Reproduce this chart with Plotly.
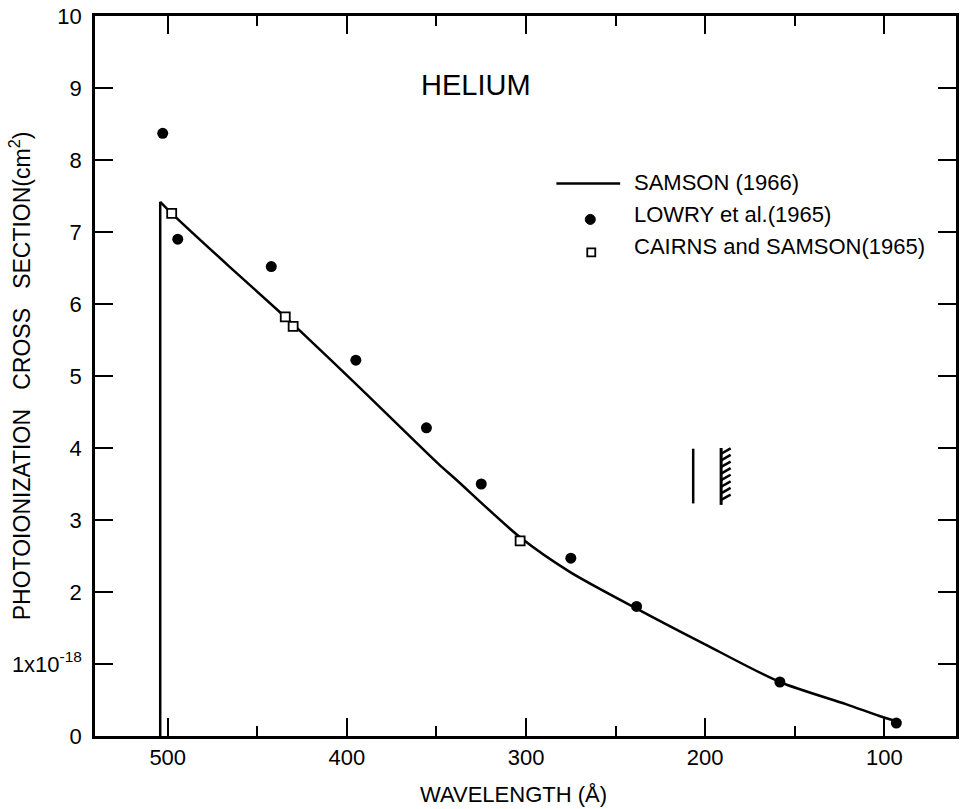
import plotly.graph_objects as go

# ---------------- data ----------------
# SAMSON (1966) continuous curve: wavelength (Å) vs cross section (1e-18 cm^2)
samson_wl = [504.2, 504.2, 497.8, 465.6, 434.4, 426.7, 393.3, 348.9, 339.4,
             303.3, 275.6, 238.3, 200.6, 158.3, 121.1, 100.6, 90.6]
samson_sigma = [0.0, 7.42, 7.26, 6.52, 5.82, 5.64, 4.85, 3.78, 3.57,
                2.76, 2.28, 1.77, 1.28, 0.75, 0.44, 0.26, 0.19]

# LOWRY et al. (1965) points
lowry_wl = [502.8, 494.4, 442.2, 395.0, 355.6, 325.0, 275.0, 238.3, 158.3, 93.3]
lowry_sigma = [8.37, 6.90, 6.52, 5.22, 4.28, 3.50, 2.47, 1.80, 0.75, 0.18]

# CAIRNS and SAMSON (1965) points
cairns_wl = [497.8, 434.4, 430.0, 303.3]
cairns_sigma = [7.26, 5.82, 5.69, 2.71]

# x / y tick labels
x_tick_vals = [500, 400, 300, 200, 100]
x_tick_text = ["500", "400", "300", "200", "100"]
y_tick_vals = [0, 1, 2, 3, 4, 5, 6, 7, 8, 9, 10]
y_tick_text = ["0", "1x10<sup>-18</sup>", "2", "3", "4", "5", "6", "7", "8", "9", "10"]

# the two vertical indicator bars (plain and hatched)
indicator_wl = [206.7, 191.1]
indicator_sigma = [3.23, 3.99]

legend_labels = ["SAMSON (1966)", "LOWRY et al.(1965)", "CAIRNS and SAMSON(1965)"]

# ---------------- figure ----------------
W, H = 963, 809
ML, MR, MT, MB = 95, 4, 14, 73
PW, PH = W - ML - MR, H - MT - MB
FONT = "Liberation Sans"


def px_x(px):
    return (px - ML) / PW


def px_y(py):
    return (H - MB - py) / PH


fig = go.Figure()

# absorption edge (vertical part of the Samson curve)
fig.add_trace(go.Scatter(
    x=samson_wl[:2], y=samson_sigma[:2], mode="lines",
    line=dict(color="black", width=2.5), name=legend_labels[0],
))
# smooth part of the Samson curve
fig.add_trace(go.Scatter(
    x=samson_wl[1:], y=samson_sigma[1:], mode="lines",
    line=dict(color="black", width=2.5, shape="spline", smoothing=0.8),
    name=legend_labels[0],
))
fig.add_trace(go.Scatter(
    x=lowry_wl, y=lowry_sigma, mode="markers",
    marker=dict(symbol="circle", size=11, color="black"), name=legend_labels[1],
))
fig.add_trace(go.Scatter(
    x=cairns_wl, y=cairns_sigma, mode="markers",
    marker=dict(symbol="square", size=9, color="white",
                line=dict(color="black", width=1.8)),
    name=legend_labels[2],
))

shapes = []
# plain indicator bar
shapes.append(dict(type="line", xref="x", yref="y",
                   x0=indicator_wl[0], x1=indicator_wl[0],
                   y0=indicator_sigma[0], y1=indicator_sigma[1],
                   line=dict(color="black", width=2.5)))
# hatched indicator bar
shapes.append(dict(type="line", xref="x", yref="y",
                   x0=indicator_wl[1], x1=indicator_wl[1],
                   y0=indicator_sigma[0] - 0.02, y1=indicator_sigma[1] + 0.01,
                   line=dict(color="black", width=3)))
n_hatch = 8
span = indicator_sigma[1] - indicator_sigma[0]
for i in range(n_hatch):
    yb = indicator_sigma[1] - 0.07 - i * (span - 0.07) / (n_hatch - 1) * 0.93
    shapes.append(dict(type="line", xref="x", yref="y",
                       x0=indicator_wl[1], x1=indicator_wl[1] - 5.3,
                       y0=yb, y1=yb + 0.075,
                       line=dict(color="black", width=2.5)))

# manual legend
shapes.append(dict(type="line", xref="paper", yref="paper",
                   x0=px_x(558), x1=px_x(622), y0=px_y(182), y1=px_y(182),
                   line=dict(color="black", width=2.5)))
shapes.append(dict(type="circle", xref="paper", yref="paper",
                   xsizemode="pixel", ysizemode="pixel",
                   xanchor=px_x(592), yanchor=px_y(218),
                   x0=-5, x1=5, y0=-5, y1=5,
                   fillcolor="black", line=dict(color="black", width=1)))
shapes.append(dict(type="rect", xref="paper", yref="paper",
                   xsizemode="pixel", ysizemode="pixel",
                   xanchor=px_x(593), yanchor=px_y(251),
                   x0=-4, x1=4, y0=-4, y1=4,
                   fillcolor="white", line=dict(color="black", width=1.8)))

annotations = []
for lbl, yy in zip(legend_labels, [181, 213, 245]):
    annotations.append(dict(text=lbl, xref="paper", yref="paper",
                            x=px_x(634), y=px_y(yy), xanchor="left", yanchor="middle",
                            showarrow=False, font=dict(family=FONT, size=22, color="black")))

annotations.append(dict(text="HELIUM", xref="paper", yref="paper",
                        x=px_x(477), y=px_y(83), xanchor="center", yanchor="middle",
                        showarrow=False, font=dict(family=FONT, size=29, color="black")))

nb = "\u00a0"
annotations.append(dict(
    text="PHOTOIONIZATION" + nb * 3 + "CROSS" + nb * 3 + "SECTION(cm<sup>2</sup>)",
    xref="paper", yref="paper", x=px_x(20), y=px_y(375),
    xanchor="center", yanchor="middle", textangle=-90, showarrow=False,
    font=dict(family=FONT, size=23, color="black")))
annotations.append(dict(
    text="WAVELENGTH" + nb + "(Å)", xref="paper", yref="paper",
    x=px_x(515), y=px_y(795), xanchor="center", yanchor="middle", showarrow=False,
    font=dict(family=FONT, size=22, color="black")))

fig.update_layout(
    width=W, height=H,
    margin=dict(l=ML, r=MR, t=MT, b=MB),
    plot_bgcolor="white", paper_bgcolor="white",
    showlegend=False,
    font=dict(family=FONT, size=22, color="black"),
    shapes=shapes, annotations=annotations,
)

fig.update_xaxes(
    range=[540.6, 60.0],
    tickmode="array", tickvals=x_tick_vals, ticktext=x_tick_text,
    ticks="inside", ticklen=18, tickwidth=2.2, tickcolor="black",
    minor=dict(tickmode="linear", tick0=0, dtick=50, ticks="inside",
               ticklen=10, tickwidth=2, tickcolor="black"),
    showline=True, linewidth=2.5, linecolor="black", mirror="ticks",
    showgrid=False, zeroline=False,
    tickfont=dict(family=FONT, size=22, color="black"),
    ticklabelstandoff=0,
)
fig.update_yaxes(
    range=[0, 10],
    tickmode="array", tickvals=y_tick_vals, ticktext=y_tick_text,
    ticks="inside", ticklen=18, tickwidth=2.2, tickcolor="black",
    showline=True, linewidth=2.5, linecolor="black", mirror="ticks",
    showgrid=False, zeroline=False,
    tickfont=dict(family=FONT, size=22, color="black"),
    ticklabelstandoff=6,
)

fig.write_html(
    "out.html",
    config={"displayModeBar": False},
    post_script="document.body.style.margin='0';document.body.style.padding='0';",
)
